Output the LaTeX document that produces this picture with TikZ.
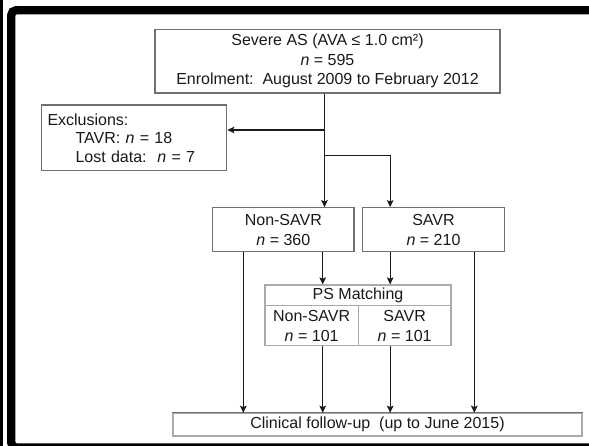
\documentclass[tikz,border=0pt]{standalone}
\usepackage{fontspec}
\setmainfont{Liberation Sans}
\usetikzlibrary{arrows.meta}
\definecolor{boxgray}{HTML}{707070}
\definecolor{lightbox}{HTML}{ABABAB}
\definecolor{ink}{HTML}{1A1A1A}
\begin{document}
\begin{tikzpicture}[x=1pt,y=-1pt,
  every node/.style={font=\fontsize{16}{19.5}\selectfont, text=ink},
  box/.style={draw=boxgray, line width=1.1pt, inner sep=0pt, align=center},
  psbox/.style={draw=lightbox, line width=1.1pt, inner sep=0pt, align=center},
  arr/.style={draw=ink, line width=1.3pt, -{Stealth[length=7pt,width=6.5pt,inset=1.3pt]}},
  ln/.style={draw=ink, line width=1.3pt}]
\useasboundingbox (0,0) rectangle (589,446);
\fill[white] (0,0) rectangle (589,446);
% frame
\begin{scope}
\clip (0,0) rectangle (589,446);
\fill[black] (0,0) rectangle (2.7,446);
\draw[black, line width=8.3pt, rounded corners=5pt] (11.2,10.2) rectangle (620,447.6);
\end{scope}

% nodes
\node[box, minimum width=345pt, minimum height=63.7pt] (top) at (327.5,61.2)
  {Severe AS (AVA ≤ 1.0 cm²)\\ \textit{n} = 595\\ Enrolment:\ \ August 2009 to February 2012};
\node[box, minimum width=185.5pt, minimum height=65.7pt, text width=173pt, align=left] (excl) at (134,137.9)
  {Exclusions:\\[-1pt] \hspace*{28pt}TAVR: \textit{n} = 18\\[-1pt] \hspace*{28pt}Lost data:\ \ \textit{n} = 7};
\node[box, minimum width=141.3pt, minimum height=44pt, font=\fontsize{16}{20}\selectfont] (ns) at (283.35,229.7)
  {Non-SAVR\\ \textit{n} = 360};
\node[box, minimum width=141.6pt, minimum height=44pt, font=\fontsize{16}{20}\selectfont] (sv) at (433.5,229.7)
  {SAVR\\ \textit{n} = 210};
\node[psbox, minimum width=186pt, minimum height=60.7pt] (ps) at (358,315.35) {};
\node[psbox, minimum width=186pt, minimum height=20.3pt] (psh) at (358,295.15) {PS Matching};
\node[psbox, minimum width=93.3pt, minimum height=40.4pt, font=\fontsize{16}{20}\selectfont] (psl) at (311.65,325.5)
  {Non-SAVR\\ \textit{n} = 101};
\node[psbox, minimum width=92.7pt, minimum height=40.4pt, font=\fontsize{16}{20}\selectfont] (psr) at (404.65,325.5)
  {SAVR\\ \textit{n} = 101};
\node[draw=lightbox, line width=1.1pt, inner sep=0pt, minimum width=409pt, minimum height=22.7pt] (cf) at (377.5,424.65)
  {Clinical follow-up\ \ (up to June 2015)};
\draw[boxgray, line width=1.4pt] (cf.north west) -- (cf.north east);

% columns and junctions
\coordinate (xA) at (243.3,0);
\coordinate (xB) at (322.7,0);
\coordinate (xC) at (324.5,0);
\coordinate (xD) at (390.2,0);
\coordinate (xE) at (474.3,0);
\coordinate (j1) at (324.5,130);
\coordinate (j2) at (324.5,155.7);

% connectors
\draw[arr] (top.south -| xC) -- (ns.north -| xC);
\draw[arr] (j1) -- (excl.east |- j1);
\draw[arr] (j2) -| (sv.north -| xD);
\draw[arr] (ns.south -| xA) -- (cf.north -| xA);
\draw[arr] (ns.south -| xB) -- (ps.north -| xB);
\draw[arr] (sv.south -| xD) -- (ps.north -| xD);
\draw[arr] (sv.south -| xE) -- (cf.north -| xE);
\draw[arr] (psl.south -| xB) -- (cf.north -| xB);
\draw[arr] (psr.south -| xD) -- (cf.north -| xD);
\end{tikzpicture}
\end{document}
